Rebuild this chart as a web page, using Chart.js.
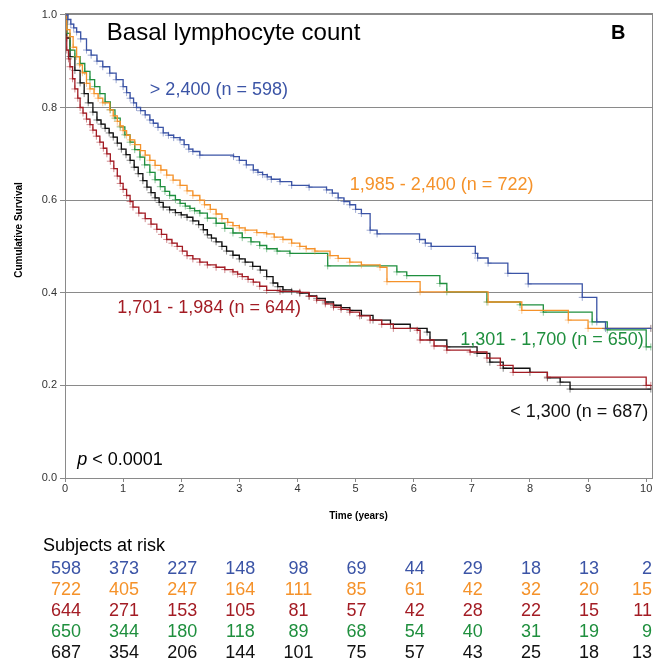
<!DOCTYPE html>
<html>
<head>
<meta charset="utf-8">
<title>Basal lymphocyte count</title>
<script src="https://cdn.jsdelivr.net/npm/chart.js@4/dist/chart.umd.min.js"></script>
<style>
  html, body { margin: 0; padding: 0; background: #fff; }
  canvas { display: block; }
</style>
</head>
<body>
<canvas id="km" width="667" height="663"></canvas>
<script>
// Kaplan-Meier curves: time (years) and cumulative survival
const timeHigh = [0, 0.05, 0.1, 0.15, 0.2, 0.27, 0.37, 0.45, 0.55, 0.65, 0.77, 0.88, 1.0, 1.06, 1.12, 1.18, 1.23, 1.3, 1.38, 1.46, 1.52, 1.6, 1.69, 1.78, 1.87, 1.98, 2.05, 2.13, 2.2, 2.32, 2.9, 3.0, 3.12, 3.24, 3.32, 3.4, 3.48, 3.55, 3.7, 3.9, 4.2, 4.5, 4.6, 4.7, 4.8, 4.9, 5.0, 5.1, 5.25, 5.37, 6.1, 6.2, 6.3, 7.06, 7.1, 7.28, 7.62, 7.97, 8.9, 9.15, 9.3, 10.08];
const survHigh = [1.0, 0.99, 0.98, 0.972, 0.963, 0.948, 0.924, 0.913, 0.9, 0.888, 0.874, 0.86, 0.845, 0.832, 0.82, 0.81, 0.8, 0.793, 0.784, 0.773, 0.766, 0.757, 0.745, 0.74, 0.735, 0.73, 0.72, 0.71, 0.705, 0.697, 0.694, 0.686, 0.676, 0.665, 0.66, 0.655, 0.65, 0.645, 0.64, 0.632, 0.628, 0.622, 0.615, 0.605, 0.597, 0.59, 0.58, 0.571, 0.535, 0.527, 0.515, 0.507, 0.5, 0.485, 0.475, 0.464, 0.442, 0.419, 0.39, 0.337, 0.323, 0.323];

const timeMid2 = [0, 0.03, 0.086, 0.14, 0.2, 0.25, 0.3, 0.37, 0.43, 0.5, 0.57, 0.65, 0.77, 0.83, 0.9, 0.95, 1.0, 1.06, 1.12, 1.2, 1.3, 1.38, 1.46, 1.55, 1.65, 1.75, 1.86, 1.98, 2.1, 2.2, 2.32, 2.4, 2.5, 2.6, 2.7, 2.8, 2.89, 3.0, 3.1, 3.3, 3.47, 3.6, 3.75, 3.9, 4.04, 4.15, 4.3, 4.56, 4.7, 4.9, 5.1, 5.42, 5.54, 6.11, 7.28, 7.86, 8.66, 9.0, 10.08];
const survMid2 = [1.0, 0.968, 0.953, 0.93, 0.91, 0.892, 0.875, 0.852, 0.84, 0.83, 0.82, 0.81, 0.795, 0.782, 0.77, 0.76, 0.75, 0.74, 0.73, 0.72, 0.707, 0.697, 0.686, 0.675, 0.665, 0.654, 0.643, 0.632, 0.62, 0.61, 0.6, 0.59, 0.58, 0.57, 0.56, 0.552, 0.545, 0.54, 0.535, 0.53, 0.527, 0.52, 0.515, 0.507, 0.5, 0.495, 0.49, 0.48, 0.474, 0.466, 0.46, 0.455, 0.424, 0.402, 0.38, 0.362, 0.341, 0.323, 0.323];

const timeMid1 = [0, 0.015, 0.03, 0.06, 0.086, 0.13, 0.17, 0.22, 0.26, 0.31, 0.37, 0.43, 0.48, 0.54, 0.6, 0.66, 0.72, 0.78, 0.84, 0.9, 0.95, 1.0, 1.06, 1.12, 1.17, 1.27, 1.38, 1.48, 1.58, 1.66, 1.75, 1.84, 1.93, 2.02, 2.1, 2.2, 2.32, 2.45, 2.6, 2.75, 2.89, 2.97, 3.05, 3.15, 3.24, 3.35, 3.47, 3.7, 4.04, 4.2, 4.33, 4.48, 4.62, 4.75, 4.9, 5.07, 5.25, 5.45, 5.65, 6.06, 6.11, 6.35, 6.57, 6.97, 7.26, 7.49, 7.71, 8.3, 10.0, 10.08];
const survMid1 = [1.0, 0.95, 0.924, 0.905, 0.888, 0.862, 0.84, 0.82, 0.8, 0.788, 0.775, 0.763, 0.751, 0.738, 0.725, 0.712, 0.7, 0.684, 0.668, 0.652, 0.636, 0.623, 0.61, 0.597, 0.585, 0.572, 0.56, 0.548, 0.537, 0.526, 0.515, 0.507, 0.5, 0.49, 0.48, 0.473, 0.466, 0.46, 0.455, 0.45, 0.445, 0.44, 0.435, 0.429, 0.423, 0.414, 0.405, 0.403, 0.401, 0.392, 0.384, 0.376, 0.369, 0.364, 0.358, 0.35, 0.341, 0.332, 0.323, 0.319, 0.298, 0.285, 0.276, 0.272, 0.259, 0.243, 0.228, 0.218, 0.2, 0.2];

const timeLow2 = [0, 0.03, 0.086, 0.17, 0.26, 0.34, 0.43, 0.51, 0.6, 0.69, 0.78, 0.86, 0.95, 1.03, 1.12, 1.2, 1.29, 1.37, 1.46, 1.55, 1.64, 1.72, 1.8, 1.9, 1.98, 2.07, 2.15, 2.23, 2.32, 2.45, 2.6, 2.75, 2.89, 3.05, 3.2, 3.35, 3.47, 3.65, 3.87, 4.52, 5.71, 5.88, 6.45, 6.57, 7.26, 7.83, 8.23, 9.07, 9.33, 10.0, 10.08];
const survLow2 = [1.0, 0.96, 0.924, 0.91, 0.895, 0.878, 0.86, 0.845, 0.83, 0.812, 0.795, 0.777, 0.758, 0.741, 0.725, 0.709, 0.693, 0.676, 0.66, 0.644, 0.629, 0.619, 0.61, 0.601, 0.593, 0.587, 0.582, 0.577, 0.572, 0.561, 0.55, 0.539, 0.529, 0.519, 0.51, 0.502, 0.495, 0.49, 0.485, 0.458, 0.445, 0.437, 0.42, 0.402, 0.38, 0.374, 0.358, 0.337, 0.32, 0.283, 0.283];

const timeLow = [0, 0.03, 0.086, 0.17, 0.26, 0.33, 0.4, 0.48, 0.55, 0.62, 0.69, 0.76, 0.83, 0.9, 0.97, 1.05, 1.12, 1.19, 1.26, 1.34, 1.41, 1.48, 1.55, 1.62, 1.69, 1.8, 1.9, 2.0, 2.1, 2.2, 2.3, 2.38, 2.45, 2.52, 2.6, 2.7, 2.78, 2.89, 3.0, 3.1, 3.23, 3.36, 3.47, 3.58, 3.66, 3.75, 3.9, 4.04, 4.2, 4.33, 4.48, 4.62, 4.75, 4.9, 5.1, 5.3, 5.6, 5.94, 6.23, 6.28, 6.57, 7.09, 7.31, 7.54, 8.0, 8.3, 8.52, 8.69, 10.08];
const survLow = [1.0, 0.95, 0.91, 0.88, 0.853, 0.83, 0.81, 0.79, 0.773, 0.764, 0.755, 0.745, 0.736, 0.723, 0.71, 0.698, 0.686, 0.671, 0.657, 0.642, 0.628, 0.616, 0.605, 0.595, 0.585, 0.579, 0.573, 0.568, 0.563, 0.555, 0.547, 0.536, 0.525, 0.518, 0.51, 0.5, 0.49, 0.481, 0.473, 0.466, 0.457, 0.449, 0.435, 0.421, 0.413, 0.406, 0.403, 0.399, 0.393, 0.388, 0.38, 0.373, 0.368, 0.362, 0.351, 0.341, 0.332, 0.323, 0.315, 0.298, 0.283, 0.269, 0.25, 0.237, 0.228, 0.216, 0.207, 0.192, 0.192];

// subjects at risk at each whole year
const riskYears = [0, 1, 2, 3, 4, 5, 6, 7, 8, 9, 10];
const riskHigh = [598, 373, 227, 148, 98, 69, 44, 29, 18, 13, 2];
const riskMid2 = [722, 405, 247, 164, 111, 85, 61, 42, 32, 20, 15];
const riskMid1 = [644, 271, 153, 105, 81, 57, 42, 28, 22, 15, 11];
const riskLow2 = [650, 344, 180, 118, 89, 68, 54, 40, 31, 19, 9];
const riskLow = [687, 354, 206, 144, 101, 75, 57, 43, 25, 18, 13];

const groupLabels = ['> 2,400 (n = 598)', '1,985 - 2,400 (n = 722)', '1,701 - 1,984 (n = 644)', '1,301 - 1,700 (n = 650)', '< 1,300 (n = 687)'];
const groupColors = ['#3b54a6', '#f5922a', '#a31c24', '#1f8f3e', '#111111'];
const yTicks = [0, 0.2, 0.4, 0.6, 0.8, 1.0];

const FONT = '"Liberation Sans", Arial, sans-serif';

function toPoints(ts, ss) {
  return ts.map((t, i) => ({ x: t, y: ss[i] }));
}

function fade(hex, a) {
  const n = parseInt(hex.slice(1), 16);
  return 'rgba(' + (n >> 16) + ',' + ((n >> 8) & 255) + ',' + (n & 255) + ',' + a + ')';
}

const curves = [
  [timeHigh, survHigh],
  [timeMid2, survMid2],
  [timeMid1, survMid1],
  [timeLow2, survLow2],
  [timeLow, survLow]
];
const riskRows = [riskHigh, riskMid2, riskMid1, riskLow2, riskLow];

// where the group labels sit, in (years, survival)
const labelSpots = [[1.46, 0.838], [4.9, 0.633], [0.9, 0.367], [6.8, 0.298], [7.66, 0.142]];

const extras = {
  id: 'extras',
  afterDraw(chart) {
    const ctx = chart.ctx;
    const a = chart.chartArea;
    const xs = chart.scales.x;
    const ys = chart.scales.y;
    ctx.save();

    // frame around the plot
    ctx.strokeStyle = '#8a8a8a';
    ctx.lineWidth = 1;
    ctx.strokeRect(Math.round(a.left) + 0.5, Math.round(a.top) + 0.5,
      Math.round(a.right - a.left), Math.round(a.bottom - a.top));

    ctx.textBaseline = 'middle';

    // headline and panel letter
    ctx.fillStyle = '#000';
    ctx.textAlign = 'left';
    ctx.font = '24px ' + FONT;
    ctx.fillText('Basal lymphocyte count', xs.getPixelForValue(0.72), ys.getPixelForValue(0.959));
    ctx.textAlign = 'center';
    ctx.font = 'bold 20px ' + FONT;
    ctx.fillText('B', xs.getPixelForValue(9.52), ys.getPixelForValue(0.959));

    // group labels
    ctx.textAlign = 'left';
    ctx.font = '18px ' + FONT;
    groupLabels.forEach((txt, i) => {
      ctx.fillStyle = groupColors[i];
      ctx.fillText(txt, xs.getPixelForValue(labelSpots[i][0]), ys.getPixelForValue(labelSpots[i][1]));
    });

    // p value
    ctx.fillStyle = '#000';
    let px = xs.getPixelForValue(0.21);
    const py = ys.getPixelForValue(0.038);
    ctx.font = 'italic 18px ' + FONT;
    ctx.fillText('p', px, py);
    px += ctx.measureText('p').width;
    ctx.font = '18px ' + FONT;
    ctx.fillText(' < 0.0001', px, py);

    // y axis title
    ctx.save();
    ctx.translate(19, 230);
    ctx.rotate(-Math.PI / 2);
    ctx.textAlign = 'center';
    ctx.font = 'bold 10px ' + FONT;
    ctx.fillStyle = '#000';
    ctx.fillText('Cumulative Survival', 0, 0);
    ctx.restore();

    // x axis title
    ctx.textAlign = 'center';
    ctx.font = 'bold 10px ' + FONT;
    ctx.fillText('Time (years)', (a.left + a.right) / 2, a.bottom + 38);

    // subjects at risk table
    ctx.textAlign = 'left';
    ctx.font = '18px ' + FONT;
    ctx.fillText('Subjects at risk', 43, a.bottom + 68);
    riskRows.forEach((row, r) => {
      ctx.fillStyle = groupColors[r];
      const yy = a.bottom + 91 + r * 21;
      row.forEach((n, c) => {
        if (c === row.length - 1) {
          ctx.textAlign = 'right';
          ctx.fillText(String(n), a.right, yy);
        } else {
          ctx.textAlign = 'center';
          ctx.fillText(String(n), xs.getPixelForValue(riskYears[c]) + 1, yy);
        }
      });
    });

    ctx.restore();
  }
};

new Chart(document.getElementById('km'), {
  type: 'line',
  data: {
    datasets: curves.map((c, i) => ({
      label: groupLabels[i],
      data: toPoints(c[0], c[1]),
      stepped: 'before',
      borderColor: groupColors[i],
      borderWidth: 1.3,
      pointStyle: 'cross',
      pointRadius: 3.5,
      pointBorderWidth: 1,
      pointBorderColor: fade(groupColors[i], 0.5),
      pointBackgroundColor: fade(groupColors[i], 0.5),
      fill: false
    }))
  },
  options: {
    responsive: false,
    animation: false,
    devicePixelRatio: 1,
    layout: { padding: { left: 0, top: 13, right: 15, bottom: 0 } },
    plugins: {
      legend: { display: false },
      tooltip: { enabled: false }
    },
    scales: {
      x: {
        type: 'linear',
        min: 0,
        max: 10.1,
        border: { color: '#8a8a8a' },
        grid: { drawOnChartArea: false, tickLength: 4, color: '#8a8a8a' },
        ticks: {
          stepSize: 1,
          includeBounds: false,
          padding: 0,
          color: '#333',
          font: { family: FONT, size: 11 }
        },
        afterFit(scale) { scale.height = 185; }
      },
      y: {
        min: 0,
        max: 1.004,
        border: { color: '#8a8a8a' },
        grid: { color: '#8a8a8a', tickLength: 5 },
        afterBuildTicks(scale) { scale.ticks = yTicks.map(v => ({ value: v })); },
        ticks: {
          includeBounds: false,
          padding: 3,
          color: '#333',
          font: { family: FONT, size: 11 },
          callback: v => v.toFixed(1)
        },
        afterFit(scale) { scale.width = 65; }
      }
    }
  },
  plugins: [extras]
});
</script>
</body>
</html>
